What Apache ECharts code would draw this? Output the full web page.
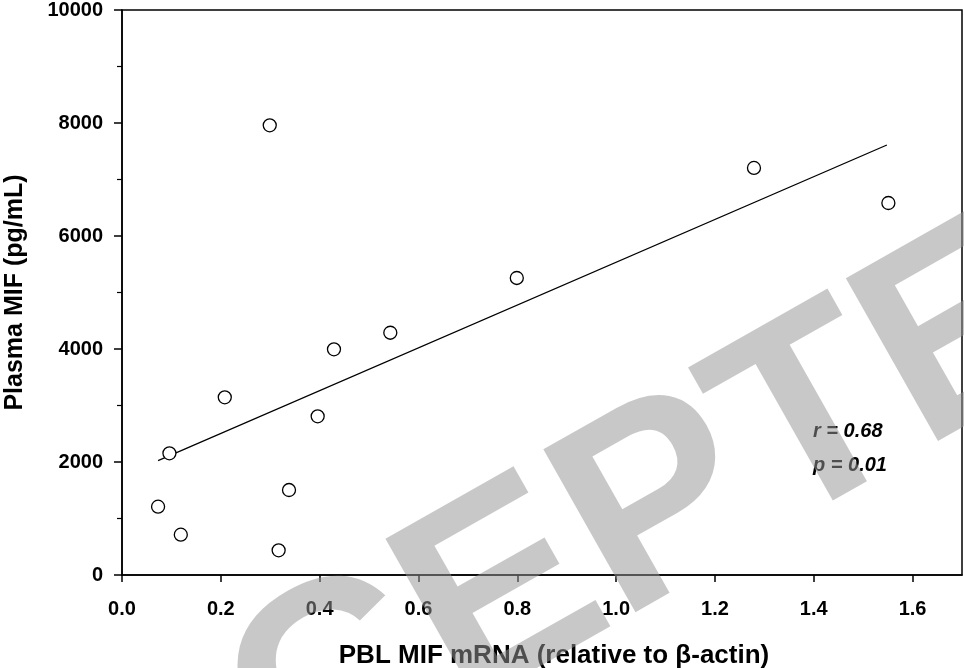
<!DOCTYPE html>
<html>
<head>
<meta charset="utf-8">
<script src="https://cdn.jsdelivr.net/npm/echarts@6/dist/echarts.min.js"></script>
<style>
  html, body { margin: 0; padding: 0; background: #fff; }
  #chart { width: 964px; height: 668px; }
</style>
</head>
<body>
<div id="chart"></div>
<script>
// values
const mrna = [0.073, 0.096, 0.119, 0.208, 0.299, 0.317, 0.338, 0.396, 0.429, 0.543, 0.799, 1.279, 1.551];
const plasmaMif = [1209, 2154, 713, 3145, 7959, 437, 1504, 2809, 3995, 4288, 5257, 7204, 6584];
const fitX = [0.073, 1.548];
const fitY = [2023, 7611];
const xTicks = [0, 0.2, 0.4, 0.6, 0.8, 1.0, 1.2, 1.4, 1.6];
const yTicks = [0, 2000, 4000, 6000, 8000, 10000];
const statsText = ["r = 0.68", "p = 0.01"];

const font = '"Liberation Sans", Arial, Helvetica, sans-serif';
const chart = echarts.init(document.getElementById("chart"), null, { renderer: "canvas" });

const points = mrna.map((x, i) => [x, plasmaMif[i]]);
const fitLine = fitX.map((x, i) => [x, fitY[i]]);

const option = {
  animation: false,
  backgroundColor: "#fff",
  grid: {
    left: 122,
    right: 2,
    top: 10,
    bottom: 93,
    outerBoundsMode: "none",
    containLabel: false,
    show: true,
    borderColor: "#000",
    borderWidth: 1.5,
    backgroundColor: "transparent",
  },
  xAxis: {
    type: "value",
    min: 0,
    max: 1.7,
    interval: 0.2,
    name: "PBL MIF mRNA (relative to β-actin)",
    nameLocation: "middle",
    nameGap: 68,
    nameTextStyle: {
      color: "#000",
      fontFamily: font,
      fontWeight: "bold",
      fontSize: 26,
      padding: [0, 0, 0, 24],
    },
    axisLine: { show: true, lineStyle: { color: "#000", width: 1.5 } },
    axisTick: { show: true, inside: false, length: 7, lineStyle: { color: "#000", width: 1.5 } },
    axisLabel: {
      color: "#000",
      fontFamily: font,
      fontWeight: "bold",
      fontSize: 20,
      margin: 24,
      showMaxLabel: false,
      formatter: (v) => (xTicks.some((t) => Math.abs(t - v) < 1e-6) ? v.toFixed(1) : ""),
    },
    splitLine: { show: false },
  },
  yAxis: {
    type: "value",
    min: 0,
    max: 10000,
    interval: 2000,
    name: "Plasma MIF (pg/mL)",
    nameLocation: "middle",
    nameGap: 94,
    nameRotate: 90,
    nameTextStyle: {
      color: "#000",
      fontFamily: font,
      fontWeight: "bold",
      fontSize: 25,
    },
    axisLine: { show: true, lineStyle: { color: "#000", width: 1.5 } },
    axisTick: { show: true, inside: false, length: 8, lineStyle: { color: "#000", width: 1.5 } },
    minorTick: { show: true, splitNumber: 2, length: 5, lineStyle: { color: "#000", width: 1.2 } },
    axisLabel: {
      color: "#000",
      fontFamily: font,
      fontWeight: "bold",
      fontSize: 20,
      margin: 19,
      formatter: (v) => (yTicks.includes(v) ? String(v) : ""),
    },
    splitLine: { show: false },
  },
  series: [
    {
      type: "line",
      data: fitLine,
      symbol: "none",
      lineStyle: { color: "#000", width: 1.3 },
      z: 2,
    },
    {
      type: "scatter",
      data: points,
      symbol: "circle",
      symbolSize: 13,
      itemStyle: { color: "#fff", borderColor: "#000", borderWidth: 1.3, opacity: 1 },
      z: 3,
    },
  ],
  graphic: [
    {
      type: "text",
      left: 813,
      top: 421,
      style: {
        text: statsText[0],
        fill: "#000",
        font: "italic bold 20px " + font,
      },
      z: 10,
    },
    {
      type: "text",
      left: 813,
      top: 455,
      style: {
        text: statsText[1],
        fill: "#000",
        font: "italic bold 20px " + font,
      },
      z: 10,
    },
    {
      // watermark
      type: "text",
      x: 563,
      y: 567,
      rotation: (29.5 * Math.PI) / 180,
      silent: true,
      style: {
        text: "ACCEPTED",
        fill: "rgba(149,149,149,0.52)",
        font: "bold 272px " + font,
        align: "center",
        verticalAlign: "middle",
      },
      z: 100,
    },
  ],
};

chart.setOption(option);
</script>
</body>
</html>
